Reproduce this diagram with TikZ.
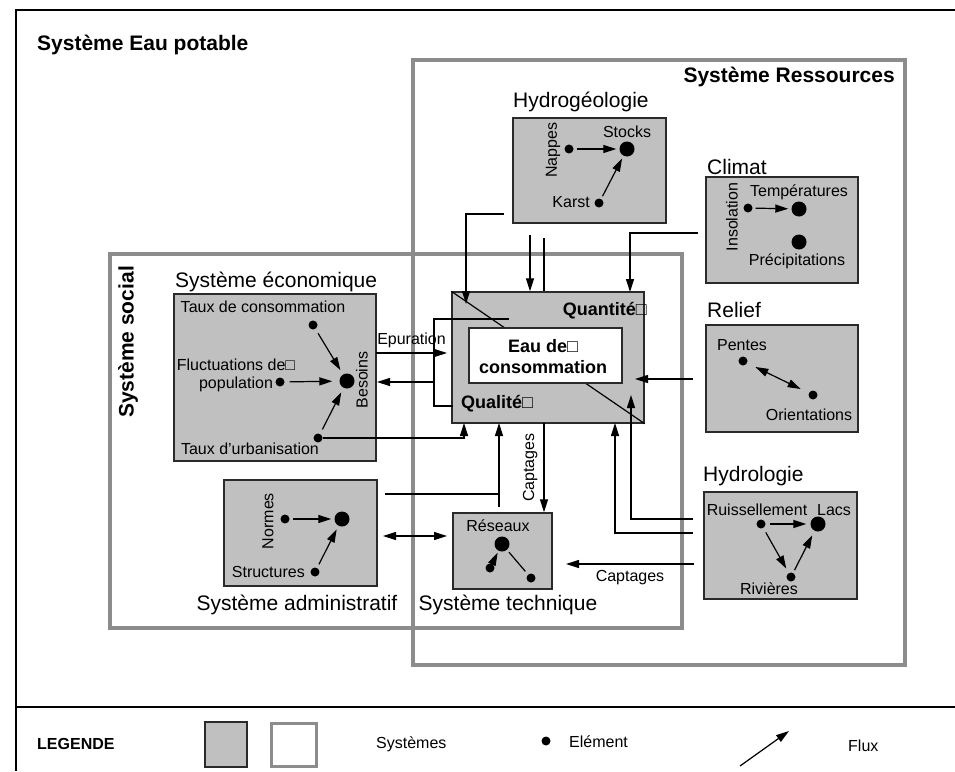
\documentclass[tikz,border=0pt]{standalone}
\usepackage{fontspec}
\setmainfont{Liberation Sans}
\usetikzlibrary{arrows.meta}
\definecolor{boxfill}{HTML}{C0C0C0}
\definecolor{sysline}{HTML}{8C8C8C}
\definecolor{boxline}{HTML}{2A2A2A}
\tikzset{
  sysbox/.style={draw=boxline, fill=boxfill, line width=1.4pt, inner sep=0pt, rectangle},
  bigsys/.style={draw=sysline, line width=3.5pt},
  elt/.style={circle, fill=black, inner sep=0pt, minimum size=9pt},
  bigelt/.style={circle, fill=black, inner sep=0pt, minimum size=15pt},
  flux/.style={line width=1.2pt, -{Triangle[length=13pt,width=8pt]}},
  biflux/.style={line width=1.2pt, {Triangle[length=13pt,width=8pt]}-{Triangle[length=13pt,width=8pt]}},
  wire/.style={line width=1.2pt},
  small/.style={font=\fontsize{16}{18}\selectfont, inner sep=0pt},
  heading/.style={font=\fontsize{21}{24}\selectfont, inner sep=0pt},
  bighead/.style={font=\fontsize{21}{24}\selectfont\bfseries, inner sep=0pt},
  core/.style={font=\fontsize{18}{21}\selectfont\bfseries, inner sep=0pt},
}
\begin{document}
\begin{tikzpicture}[x=1pt,y=-1pt]
\useasboundingbox (0,0) rectangle (955,771);
\fill[white] (0,0) rectangle (955,771);

% page frame and legend separator
\coordinate (ftl) at (16,10);
\coordinate (ftr) at (955,10);
\coordinate (fbl) at (16,771);
\coordinate (fsl) at (16,707);
\coordinate (fsr) at (955,707);
\draw[line width=1.5pt] (ftr) -- (ftl) -- (fbl);
\draw[line width=1.5pt] (fsl) -- (fsr);

% enclosing systems
\draw[bigsys] (413,60) rectangle (905,665);
\draw[bigsys] (110,254) rectangle (682,628);

\node[bighead, anchor=west] (tEau) at (37,45) {Système Eau potable};
\node[bighead, anchor=east] (tRes) at (895,77) {Système Ressources};
\node[bighead, rotate=90] (tSoc) at (128,342) {Système social};

% sub-systems
\node[sysbox, minimum width=153pt, minimum height=105pt] (hydro) at (589.5,170.5) {};
\node[sysbox, minimum width=152pt, minimum height=106pt] (climat) at (782,230) {};
\node[sysbox, minimum width=152pt, minimum height=107pt] (relief) at (782,378.5) {};
\node[sysbox, minimum width=153pt, minimum height=107pt] (hydrol) at (780.5,545.5) {};
\node[sysbox, minimum width=202pt, minimum height=167pt] (eco) at (275,377.5) {};
\node[sysbox, minimum width=153pt, minimum height=106pt] (admin) at (300.5,533) {};
\node[sysbox, minimum width=99pt, minimum height=76pt] (reseaux) at (502.5,551) {};
\node[sysbox, minimum width=192pt, minimum height=131pt] (eau) at (548,357.5) {};
\draw[line width=1.2pt] (eau.north west) -- (eau.south east);
\node[draw=boxline, fill=white, line width=1.4pt, minimum width=153pt, minimum height=55pt] (eauin) at (545.5,355.5) {};

\node[heading, anchor=west] (lHydro) at (513,102) {Hydrogéologie};
\node[heading, anchor=west] (lClim) at (707,167) {Climat};
\node[heading, anchor=west] (lRel) at (707,310) {Relief};
\node[heading, anchor=west] (lHydrol) at (703,476) {Hydrologie};
\node[heading, anchor=west] (lEco) at (175,282) {Système économique};
\node[heading] (lAdm) at (297,605) {Système administratif};
\node[heading] (lTech) at (508,605) {Système technique};

% elements
\node[elt] (nappes) at (569,149) {};
\node[bigelt] (stocks) at (627,149) {};
\node[elt] (karst) at (599,203) {};
\node[elt] (insol) at (748,208) {};
\node[bigelt] (temp) at (799,209) {};
\node[bigelt] (precip) at (799,242) {};
\node[elt] (pentes) at (743,361) {};
\node[elt] (orient) at (813,395) {};
\node[elt] (ruiss) at (761,524) {};
\node[bigelt] (lacs) at (818,524) {};
\node[elt] (riv) at (791,577) {};
\node[elt] (tauxc) at (313,325) {};
\node[elt] (fluct) at (280,382) {};
\node[bigelt] (besoins) at (347,381) {};
\node[elt] (urb) at (318,438) {};
\node[elt] (normes) at (285,519) {};
\node[bigelt] (admc) at (342,519) {};
\node[elt] (struct) at (315,572) {};
\node[bigelt] (rbig) at (502,544) {};
\node[elt] (rone) at (490,568) {};
\node[elt] (rtwo) at (531,578) {};

% element labels
\node[small] at (627,132) {Stocks};
\node[small, rotate=90] at (553,150) {Nappes};
\node[small, anchor=east] at (590,202) {Karst};
\node[small] at (799,192) {Températures};
\node[small] at (797,261) {Précipitations};
\node[small, rotate=90] at (732,217) {Insolation};
\node[small] at (742,345) {Pentes};
\node[small] at (809,415) {Orientations};
\node[small] at (757,510) {Ruissellement};
\node[small] at (834,510) {Lacs};
\node[small] at (769,589) {Rivières};
\node[small] at (263,307) {Taux de consommation};
\node[small, align=center] at (236,375) {Fluctuations de□\\population};
\node[small, rotate=90] at (362,380) {Besoins};
\node[small] at (250,449) {Taux d'urbanisation};
\node[small, rotate=90] at (268,521) {Normes};
\node[small, anchor=east] at (305,572) {Structures};
\node[small] at (498,526) {Réseaux};
\node[core, anchor=east] at (647,311) {Quantité□};
\node[core, anchor=west] at (461,404) {Qualité□};
\node[core, align=center] at (543,357) {Eau de□\\consommation};

% flows inside the sub-systems
\draw[flux, shorten <=3pt, shorten >=3pt] (nappes) -- (stocks);
\draw[flux, shorten <=3pt, shorten >=3pt] (karst) -- (stocks);
\draw[flux, shorten <=3pt, shorten >=3pt] (insol) -- (temp);
\draw[biflux, shorten <=9pt, shorten >=9pt] (pentes) -- (orient);
\draw[flux, shorten <=4pt, shorten >=4pt] (ruiss) -- (lacs);
\draw[flux, shorten <=5pt, shorten >=5pt] (ruiss) -- (riv);
\draw[flux, shorten <=3pt, shorten >=5pt] (riv) -- (lacs);
\draw[flux, shorten <=5pt, shorten >=5pt] (tauxc) -- (besoins);
\draw[flux, shorten <=5pt, shorten >=7pt] (fluct) -- (besoins);
\draw[flux, shorten <=5pt, shorten >=5pt] (urb) -- (besoins);
\draw[flux, shorten <=3pt, shorten >=3pt] (normes) -- (admc);
\draw[flux, shorten <=4pt, shorten >=4pt] (struct) -- (admc);
\draw[flux, shorten <=3pt, shorten >=2pt] (rone) -- (rbig);
\draw[wire, shorten <=3pt, shorten >=4pt] (rbig) -- (rtwo);

% flows between sub-systems
\coordinate (hA) at (504,214);
\coordinate (hAe) at (466,304);
\draw[flux] (hA) -| (hAe);
\coordinate (hB) at (530,235);
\draw[flux] (hB) -- (hB |- eau.north);
\coordinate (hC) at (544,238);
\draw[wire] (hC) -- (hC |- eau.north);
\coordinate (cA) at (698,233);
\coordinate (cAe) at (630,292);
\draw[flux] (cA) -| (cAe);
\coordinate (rA) at (693,379);
\coordinate (rAe) at (635,379);
\draw[flux] (rA) -- (rAe);
\coordinate (yA) at (693,519);
\coordinate (yAe) at (631,395);
\draw[flux] (yA) -| (yAe);
\coordinate (yB) at (693,533);
\coordinate (yBe) at (615,423);
\draw[flux] (yB) -| (yBe);
\coordinate (yC) at (694,564);
\coordinate (yCe) at (566,564);
\draw[flux] (yC) -- (yCe) node[small, midway, below=6pt] {Captages};
\coordinate (eCap) at (544,423);
\draw[flux] (eCap) -- (eCap |- reseaux.north) node[small, midway, rotate=90, above=6pt] {Captages};
\coordinate (uA) at (464,423);
\draw[flux] (urb) -| (uA);
\coordinate (aA) at (499,507);
\coordinate (aAe) at (499,423);
\coordinate (aB) at (385,494);
\draw[flux] (aA) -- (aAe);
\draw[wire] (aB) -- (aB -| aA);
\coordinate (aL) at (383,536);
\coordinate (aR) at (447,536);
\draw[biflux] (aL) -- (aR);
\coordinate (epA) at (376,353);
\coordinate (epB) at (447,353);
\draw[flux] (epA) -- (epB) node[small, midway, above=5pt] {Epuration};
\coordinate (qT) at (509,319);
\coordinate (qJ) at (434,382);
\coordinate (qB) at (453,406);
\draw[wire] (qT) -| (qJ) |- (qB);
\coordinate (bE) at (377,382);
\draw[flux] (qJ) -- (bE);

% legend
\node[font=\fontsize{16}{18}\selectfont\bfseries, anchor=west, inner sep=0pt] (leg) at (37,744) {LEGENDE};
\node[sysbox, minimum width=42pt, minimum height=45pt] (legA) at (226,744.5) {};
\node[draw=sysline, line width=3.5pt, minimum width=45pt, minimum height=43pt, inner sep=0pt] (legB) at (294,745) {};
\node[small, anchor=west] (legS) at (376,744) {Systèmes};
\node[elt] (legD) at (546,741) {};
\node[small, anchor=west] (legE) at (569,742) {Elément};
\coordinate (lfA) at (740,766);
\coordinate (lfB) at (789,731);
\draw[flux] (lfA) -- (lfB);
\node[small, anchor=west] (legF) at (848,746) {Flux};
\end{tikzpicture}
\end{document}
